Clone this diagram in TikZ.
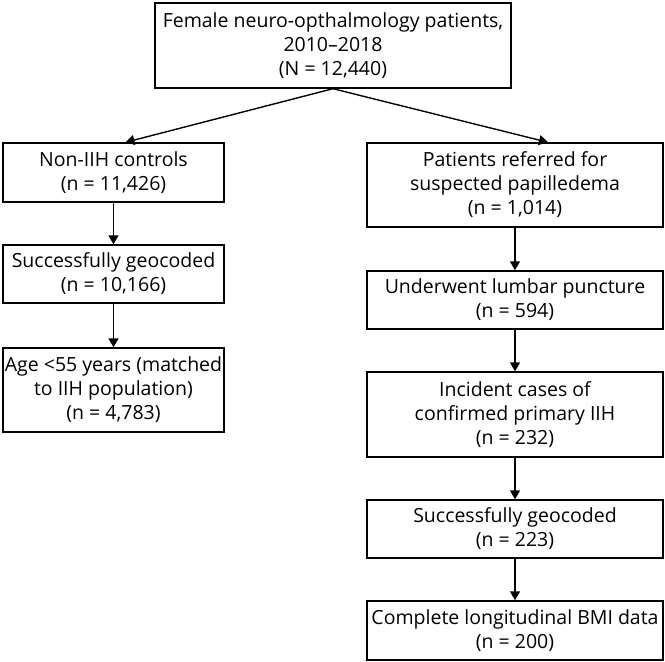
\documentclass[tikz,border=0pt]{standalone}
\usepackage{fontspec}
\setmainfont{Open Sans}
\usetikzlibrary{arrows.meta}

\begin{document}
\begin{tikzpicture}[x=1pt,y=1pt,line width=1.4pt,
    -{Triangle[length=9pt,width=10pt]},
    box/.style={draw,-,align=center,inner sep=0pt,
      font=\fontsize{19.5}{24}\selectfont},
    lbox/.style={box,minimum width=221pt},
    rbox/.style={box,minimum width=296pt}]
   \useasboundingbox (0,0) rectangle (665,-662);

   \node[box,minimum width=356pt,minimum height=85pt] (all) at (333,-45.5)
      {Female neuro-opthalmology patients,\\2010–2018\\(N = 12,440)};

   % controls
   \node[lbox,minimum height=59pt] (ctrl) at (113.5,-172.5) {Non-IIH controls\\(n = 11,426)};
   \node[lbox,minimum height=58pt] (cgeo) at (113.5,-274) {Successfully geocoded\\(n = 10,166)};
   \node[lbox,minimum height=84pt] (cage) at (113.5,-390)
      {Age <55 years (matched\\to IIH population)\\(n = 4,783)};

   % cases
   \node[rbox,minimum height=84pt] (ref) at (515,-185)
      {Patients referred for\\suspected papilledema\\(n = 1,014)};
   \node[rbox,minimum height=58pt] (lp) at (515,-300) {Underwent lumbar puncture\\(n = 594)};
   \node[rbox,minimum height=85pt] (iih) at (515,-414.5)
      {Incident cases of\\confirmed primary IIH\\(n = 232)};
   \node[rbox,minimum height=58pt] (geo) at (515,-529) {Successfully geocoded\\(n = 223)};
   \node[rbox,minimum height=59pt] (bmi) at (515,-630.5) {Complete longitudinal BMI data\\(n = 200)};

   \draw (all.south) -- ([xshift=12pt]ctrl.north);
   \draw (all.south) -- ([xshift=33pt]ref.north);
   \draw (ctrl) -- (cgeo);
   \draw (cgeo) -- (cage);
   \draw (ref) -- (lp);
   \draw (lp) -- (iih);
   \draw (iih) -- (geo);
   \draw (geo) -- (bmi);

\end{tikzpicture}
\end{document}
